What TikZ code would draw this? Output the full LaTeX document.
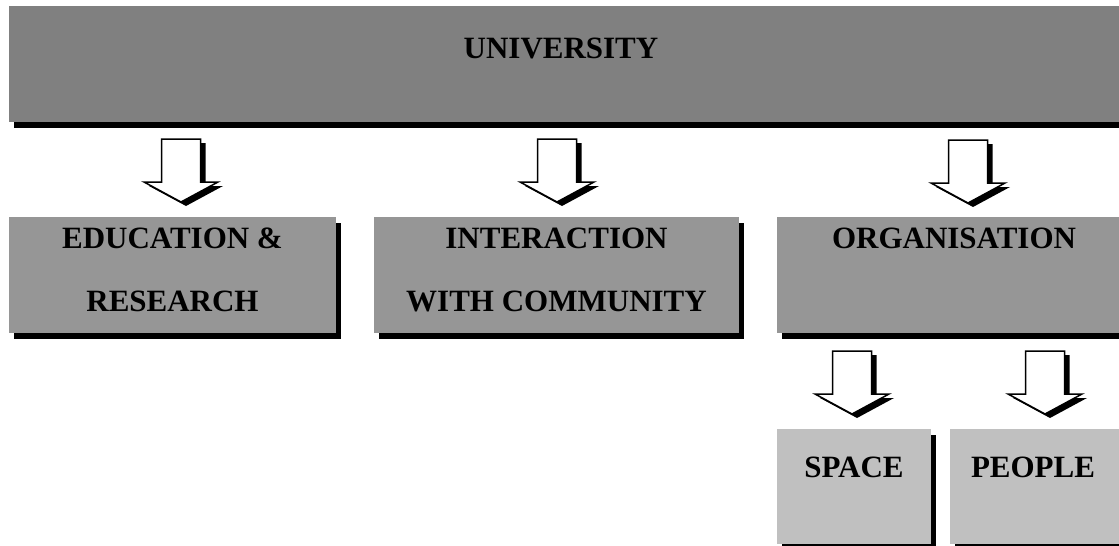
\documentclass[tikz,border=0pt]{standalone}
\usepackage{fontspec}
\setmainfont{Liberation Serif}
\usetikzlibrary{shadows}

\definecolor{topgray}{RGB}{128,128,128}
\definecolor{midgray}{RGB}{150,150,150}
\definecolor{lowgray}{RGB}{192,192,192}

\tikzset{
  box/.style={draw=none, anchor=north west, inner sep=0pt,
    drop shadow={shadow xshift=5pt, shadow yshift=-6pt, fill=black, opacity=1}},
  lbl/.style={font=\bfseries\fontsize{31}{36}\selectfont, anchor=base, inner sep=0pt},
  pics/downarrow/.style={code={
    \fill[black, shift={(5,4)}] (-19.5,0) -- (19.5,0) -- (19.5,43) -- (37,43)
      -- (0,63) -- (-37,43) -- (-19.5,43) -- cycle;
    \filldraw[fill=white, draw=black, line width=1.5pt, line join=miter]
      (-19.5,0) -- (19.5,0) -- (19.5,43) -- (37,43)
      -- (0,63) -- (-37,43) -- (-19.5,43) -- cycle;
  }}
}

\begin{document}
\begin{tikzpicture}[x=1pt, y=-1pt]
  \useasboundingbox (0,0) rectangle (1119,546);
  \clip (0,0) rectangle (1119,546);

  % boxes
  \node[box, fill=topgray, minimum width=1125pt, minimum height=116pt] (uni) at (9,6) {};
  \node[box, fill=midgray, minimum width=327pt, minimum height=116pt] (edu) at (9,217) {};
  \node[box, fill=midgray, minimum width=365pt, minimum height=116pt] (inter) at (374,217) {};
  \node[box, fill=midgray, minimum width=354pt, minimum height=116pt] (org) at (777,217) {};
  \node[box, fill=lowgray, minimum width=154pt, minimum height=115pt] (space) at (777,429) {};
  \node[box, fill=lowgray, minimum width=180pt, minimum height=115pt] (people) at (950,429) {};

  % texts
  \node[lbl] (unitext) at (561,58) {UNIVERSITY};
  \node[lbl] (edutext1) at (172.5,248) {EDUCATION \&};
  \node[lbl] (edutext2) at (172.5,311) {RESEARCH};
  \node[lbl] (intertext1) at (556.5,248) {INTERACTION};
  \node[lbl] (intertext2) at (556.5,311) {WITH COMMUNITY};
  \node[lbl] (orgtext) at (954,248) {ORGANISATION};
  \node[lbl] (spacetext) at (854,477) {SPACE};
  \node[lbl] (peopletext) at (1033,477) {PEOPLE};

  % block arrows
  \pic (a1) at (181,139) {downarrow};
  \pic (a2) at (557,139) {downarrow};
  \pic (a3) at (968,140) {downarrow};
  \pic (a4) at (852,351) {downarrow};
  \pic (a5) at (1045,351) {downarrow};
\end{tikzpicture}
\end{document}
